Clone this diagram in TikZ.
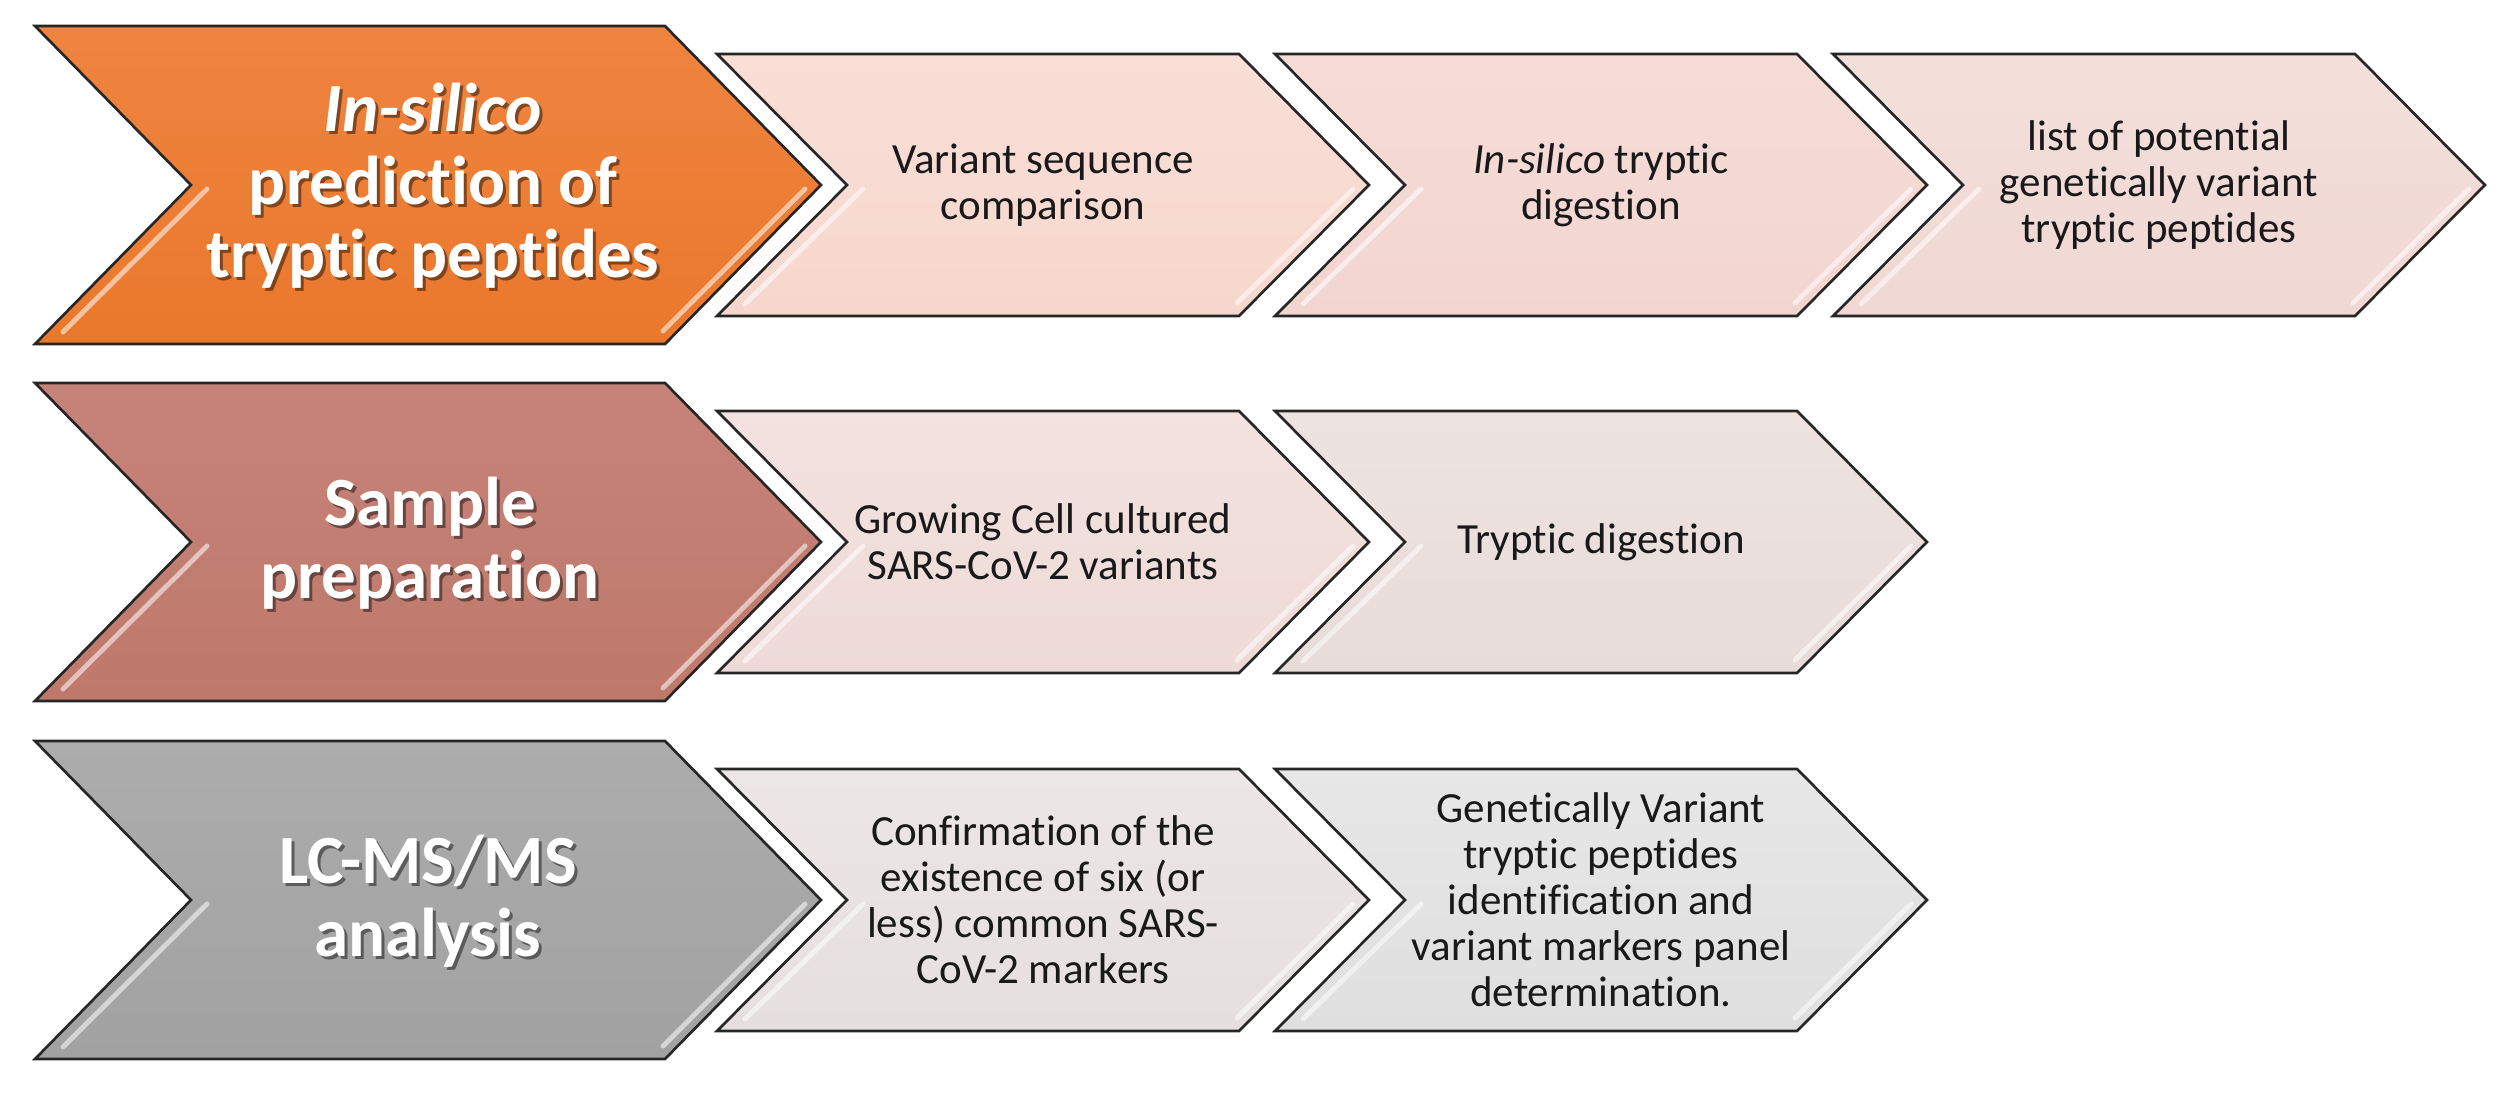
\documentclass[tikz,border=0pt]{standalone}
\usepackage{fontspec}
\setmainfont{Carlito}[Ligatures=NoCommon]
\newcommand\Ti{t\kern0pt i}
\definecolor{orT}{HTML}{EF8440}
\definecolor{orB}{HTML}{EA782C}
\definecolor{roT}{HTML}{C6837A}
\definecolor{roB}{HTML}{BF796B}
\definecolor{grT}{HTML}{ACACAC}
\definecolor{grB}{HTML}{A2A2A2}
\definecolor{pAT}{HTML}{FADFD6}
\definecolor{pAB}{HTML}{F6D7CE}
\definecolor{pBT}{HTML}{F6DCD7}
\definecolor{pBB}{HTML}{F2D5D0}
\definecolor{pCT}{HTML}{F4DFDB}
\definecolor{pCB}{HTML}{F0D8D4}
\definecolor{qAT}{HTML}{F3E2DF}
\definecolor{qAB}{HTML}{EEDBD8}
\definecolor{qBT}{HTML}{EDE3E1}
\definecolor{qBB}{HTML}{E8DCDA}
\definecolor{sAT}{HTML}{ECE7E6}
\definecolor{sAB}{HTML}{E5E0DF}
\definecolor{sBT}{HTML}{E7E7E7}
\definecolor{sBB}{HTML}{DFDFDF}
\tikzset{
  chevline/.style={draw=black!85, line width=0.75pt, line join=miter},
  hilite/.style={draw=white, opacity=0.55, line width=1.4pt, line cap=round},
  bigtxt/.style={font=\bfseries\fontsize{19.63pt}{20.77pt}\selectfont, text=white, align=center, inner sep=0pt},
  bigshadow/.style={bigtxt, text=black, opacity=0.45},
  smalltxt/.style={font=\fontsize{12.23pt}{13.09pt}\selectfont, text=black!90, align=center, inner sep=0pt},
}
% #1 x0, #2 yc, #3 width, #4 half height, #5 depth, #6 top colour, #7 bottom colour
\newcommand\chev[7]{%
  \shadedraw[chevline, top color=#6, bottom color=#7]
    (#1,{#2-#4}) -- ({#1+#3-#5},{#2-#4}) -- ({#1+#3},#2) -- ({#1+#3-#5},{#2+#4})
    -- (#1,{#2+#4}) -- ({#1+#5},#2) -- cycle;
  \draw[hilite] ({#1+#5+16},{#2+4}) -- ({#1+28},{#2+#4-12});
  \draw[hilite] ({#1+#3-16},{#2+4}) -- ({#1+#3-#5-2},{#2+#4-13});
}
\begin{document}
\begin{tikzpicture}[x=0.01cm,y=-0.01cm]
\useasboundingbox (0,0) rectangle (2509,1097);
\fill[white] (0,0) rectangle (2509,1097);

% Row 1
\chev{35}{185}{786}{159}{156}{orT}{orB}
\chev{717}{185}{652}{131}{130}{pAT}{pAB}
\chev{1275}{185}{652}{131}{130}{pBT}{pBB}
\chev{1833}{185}{652}{131}{130}{pCT}{pCB}

% Row 2
\chev{35}{542}{786}{159}{156}{roT}{roB}
\chev{717}{542}{652}{131}{130}{qAT}{qAB}
\chev{1275}{542}{652}{131}{130}{qBT}{qBB}

% Row 3
\chev{35}{900}{786}{159}{156}{grT}{grB}
\chev{717}{900}{652}{131}{130}{sAT}{sAB}
\chev{1275}{900}{652}{131}{130}{sBT}{sBB}

% Big labels (shadow + text)
\node[bigshadow] (t1s) at (436,189) {\textit{In-silico}\\predic\Ti on of\\tryptic peptides};
\node[bigtxt] (t1) at (433,186) {\textit{In-silico}\\predic\Ti on of\\tryptic peptides};
\node[bigshadow] (t2s) at (433,546) {Sample\\prepara\Ti on};
\node[bigtxt] (t2) at (430,543) {Sample\\prepara\Ti on};
\node[bigshadow] (t3s) at (431,904) {LC-MS/MS\\analysis};
\node[bigtxt] (t3) at (428,901) {LC-MS/MS\\analysis};

% Small labels
\node[smalltxt] (a2) at (1043,185) {Variant sequence\\comparison};
\node[smalltxt] (a3) at (1601,185) {\textit{In-silico} tryptic\\diges\Ti on};
\node[smalltxt] (a4) at (2159,185) {list of poten\Ti al\\genetically variant\\tryptic peptides};
\node[smalltxt] (b2) at (1043,542) {Growing Cell cultured\\SARS-CoV-2 variants};
\node[smalltxt] (b3) at (1601,542) {Tryptic diges\Ti on};
\node[smalltxt] (c2) at (1043,900) {Confirma\Ti on of the\\existence of six (or\\less) common SARS-\\CoV-2 markers};
\node[smalltxt] (c3) at (1601,900) {Genetically Variant\\tryptic peptides\\iden\Ti fica\Ti on and\\variant markers panel\\determina\Ti on.};
\end{tikzpicture}
\end{document}
